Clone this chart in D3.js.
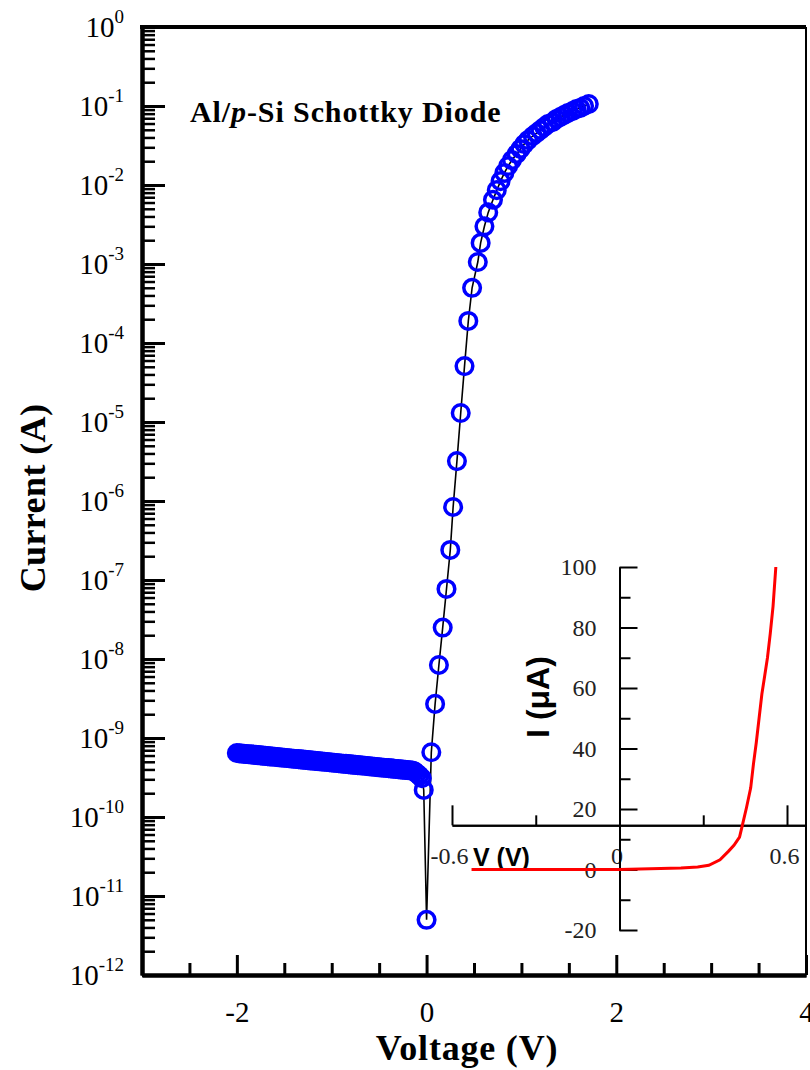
<!DOCTYPE html>
<html>
<head>
<meta charset="utf-8">
<script src="https://cdn.jsdelivr.net/npm/d3@7"></script>
<style>
body { margin: 0; background: #fff; }
</style>
</head>
<body>
<div id="chart"></div>
<script>
// reverse bias branch (V, A)
const revVoltage = [-2.000,-1.975,-1.950,-1.925,-1.900,-1.875,-1.850,-1.825,-1.800,-1.775,-1.750,-1.725,-1.700,-1.675,-1.650,-1.625,
  -1.600,-1.575,-1.550,-1.525,-1.500,-1.475,-1.450,-1.425,-1.400,-1.375,-1.350,-1.325,-1.300,-1.275,-1.250,-1.225,
  -1.200,-1.175,-1.150,-1.125,-1.100,-1.075,-1.050,-1.025,-1.000,-0.975,-0.950,-0.925,-0.900,-0.875,-0.850,-0.825,
  -0.800,-0.775,-0.750,-0.725,-0.700,-0.675,-0.650,-0.625,-0.600,-0.575,-0.550,-0.525,-0.500,-0.475,-0.450,-0.425,
  -0.400,-0.375,-0.350,-0.325,-0.300,-0.275,-0.250,-0.225,-0.200,-0.175,-0.150,-0.125,-0.100,-0.075,-0.050,-0.030];
const revCurrent = [6.46e-10,6.42e-10,6.37e-10,6.33e-10,6.28e-10,6.24e-10,6.20e-10,6.15e-10,6.11e-10,6.07e-10,6.03e-10,5.99e-10,5.94e-10,5.90e-10,5.86e-10,5.82e-10,
  5.78e-10,5.74e-10,5.70e-10,5.66e-10,5.62e-10,5.59e-10,5.55e-10,5.51e-10,5.47e-10,5.43e-10,5.40e-10,5.36e-10,5.32e-10,5.29e-10,5.25e-10,5.21e-10,
  5.18e-10,5.14e-10,5.11e-10,5.07e-10,5.04e-10,5.00e-10,4.97e-10,4.93e-10,4.90e-10,4.86e-10,4.83e-10,4.80e-10,4.76e-10,4.73e-10,4.70e-10,4.67e-10,
  4.63e-10,4.60e-10,4.57e-10,4.54e-10,4.51e-10,4.48e-10,4.45e-10,4.42e-10,4.38e-10,4.35e-10,4.32e-10,4.29e-10,4.26e-10,4.24e-10,4.21e-10,4.18e-10,
  4.15e-10,4.12e-10,4.09e-10,4.06e-10,4.04e-10,4.01e-10,3.98e-10,3.95e-10,3.93e-10,3.90e-10,3.87e-10,3.75e-10,3.55e-10,3.35e-10,3.10e-10,2.20e-10];

// forward bias branch (V, A)
const fwdVoltage = [0.00,0.05,0.09,0.13,0.17,0.21,0.25,0.28,0.32,0.36,0.40,0.44,0.48,0.54,0.57,0.61,0.65,0.70,0.74,0.78,0.82,
  0.86,0.90,0.95,0.99,1.03,1.07,1.12,1.16,1.20,1.24,1.28,1.33,1.37,1.41,1.45,1.49,1.54,1.58,1.62,1.66,1.71];
const fwdCurrent = [5.0e-12,6.6e-10,2.7e-9,8.4e-9,2.5e-8,7.7e-8,2.4e-7,8.4e-7,3.2e-6,1.3e-5,5.1e-5,1.9e-4,5.0e-4,1.06e-3,1.85e-3,3.0e-3,4.5e-3,6.5e-3,8.6e-3,1.12e-2,1.42e-2,
  1.74e-2,2.07e-2,2.47e-2,2.86e-2,3.30e-2,3.71e-2,4.17e-2,4.55e-2,4.97e-2,5.42e-2,5.92e-2,6.27e-2,6.85e-2,7.26e-2,7.69e-2,8.15e-2,8.64e-2,9.16e-2,9.44e-2,1.0e-1,1.06e-1];

// inset, linear I-V (V, uA)
const insetVoltage = [-0.53,0.00,0.22,0.28,0.32,0.36,0.39,0.41,0.43,0.44,0.455,0.47,0.48,0.49,0.50,0.51,0.52,0.53,0.54,0.55,0.56];
const insetCurrent = [0,0,0.5,0.8,1.4,3.2,6.0,8.0,10.7,14.6,20.5,27,35,42,50,58,64,70,78,87,100];

// ticks
const xMajorTicks = [-2,0,2,4];
const xMinorTicks = [-2.5,-1.5,-1,-0.5,0.5,1,1.5,2.5,3,3.5];
const yDecades = [1,1e-1,1e-2,1e-3,1e-4,1e-5,1e-6,1e-7,1e-8,1e-9,1e-10,1e-11,1e-12];
const insetXMajor = [-0.6,0,0.6];
const insetXMinor = [-0.3,0.3];
const insetYMajor = [-20,0,20,40,60,80,100];
const insetYMinor = [-10,10,30,50,70,90];
const insetAxisCross = 14.6;   // inset x axis sits at this current

const serif = "'Liberation Serif','Times New Roman',serif";
const sans = "'Liberation Sans',Arial,sans-serif";

const svg = d3.select("#chart").append("svg")
  .attr("width", 810).attr("height", 1070);

const x = d3.scaleLinear().domain([-3, 4]).range([142, 806]);
const y = d3.scaleLog().domain([1e-12, 1]).range([975, 27]);

// minor decade ticks 2..9 x 10^k
const yMinorTicks = [];
for (let k = -12; k < 0; k++) {
  for (let m = 2; m < 10; m++) yMinorTicks.push(m * Math.pow(10, k));
}

function styleAxis(g, w, tw) {
  g.select(".domain").attr("stroke", "#000").attr("stroke-width", w);
  g.selectAll(".tick line").attr("stroke", "#000").attr("stroke-width", tw);
}

// bottom axis
svg.append("g")
  .attr("transform", `translate(0,${y(1e-12)})`)
  .call(d3.axisBottom(x).tickValues(xMinorTicks).tickSize(-12).tickSizeOuter(0).tickFormat(""))
  .call(g => styleAxis(g, 4, 3));
svg.append("g")
  .attr("transform", `translate(0,${y(1e-12)})`)
  .call(d3.axisBottom(x).tickValues(xMajorTicks).tickSize(-20).tickSizeOuter(0).tickPadding(26).tickFormat(d => String(d)))
  .attr("font-family", serif).attr("font-size", 29)
  .call(g => styleAxis(g, 4, 3))
  .call(g => g.selectAll(".tick text").attr("fill", "#000"));

// left axis
svg.append("g")
  .attr("transform", `translate(${x(-3)},0)`)
  .call(d3.axisLeft(y).tickValues(yMinorTicks).tickSize(-13).tickSizeOuter(0).tickFormat(""))
  .call(g => styleAxis(g, 4, 2.5));
svg.append("g")
  .attr("transform", `translate(${x(-3)},0)`)
  .call(d3.axisLeft(y).tickValues(yDecades).tickSize(-23).tickSizeOuter(0).tickPadding(18))
  .attr("font-family", serif).attr("font-size", 29)
  .call(g => styleAxis(g, 4, 3))
  .call(g => g.selectAll(".tick text").each(function (d) {
    const t = d3.select(this).attr("fill", "#000").text("10");
    t.append("tspan").attr("dy", -14).attr("font-size", 19).text(String(Math.round(Math.log10(d))));
  }));

// top and right frame
svg.append("line")
  .attr("x1", x(-3) - 2).attr("x2", x(4)).attr("y1", y(1)).attr("y2", y(1))
  .attr("stroke", "#000").attr("stroke-width", 4);
svg.append("line")
  .attr("x1", x(4)).attr("x2", x(4)).attr("y1", y(1)).attr("y2", y(1e-12))
  .attr("stroke", "#000").attr("stroke-width", 2);

// axis titles
svg.append("text")
  .attr("x", 467).attr("y", 1060)
  .attr("text-anchor", "middle")
  .attr("font-family", serif).attr("font-weight", "bold").attr("font-size", 36)
  .attr("letter-spacing", 0.8)
  .text("Voltage (V)");
svg.append("text")
  .attr("transform", "translate(45,498) rotate(-90)")
  .attr("text-anchor", "middle")
  .attr("font-family", serif).attr("font-weight", "bold").attr("font-size", 36)
  .attr("letter-spacing", 0.4)
  .text("Current (A)");

// title
const title = svg.append("text")
  .attr("x", 190).attr("y", 122)
  .attr("font-family", serif).attr("font-weight", "bold").attr("font-size", 30)
  .attr("letter-spacing", 0.9);
title.append("tspan").text("Al/");
title.append("tspan").attr("font-style", "italic").text("p");
title.append("tspan").text("-Si Schottky Diode");

// main data
const data = revVoltage.map((v, i) => ({ v: v, c: revCurrent[i] }))
  .concat(fwdVoltage.map((v, i) => ({ v: v, c: fwdCurrent[i] })));

svg.append("path")
  .datum(data)
  .attr("fill", "none")
  .attr("stroke", "#000")
  .attr("stroke-width", 1.6)
  .attr("d", d3.line().x(d => x(d.v)).y(d => y(d.c)));

svg.append("g")
  .selectAll("circle")
  .data(data)
  .join("circle")
  .attr("cx", d => x(d.v))
  .attr("cy", d => y(d.c))
  .attr("r", 8.3)
  .attr("fill", "none")
  .attr("stroke", "#0000ff")
  .attr("stroke-width", 3.5);

// ---- inset ----
const xi = d3.scaleLinear().domain([-0.6, 0.6]).range([452, 787]);
xi.domain([-0.6, xi.invert(x(4))]).range([452, x(4)]);
const yi = d3.scaleLinear().domain([-20, 100]).range([930, 567]);

svg.append("g")
  .attr("transform", `translate(0,${yi(insetAxisCross)})`)
  .call(d3.axisBottom(xi).tickValues(insetXMinor).tickSize(-10).tickSizeOuter(0).tickFormat(""))
  .call(g => styleAxis(g, 2, 2));
svg.append("g")
  .attr("transform", `translate(0,${yi(insetAxisCross)})`)
  .call(d3.axisBottom(xi).tickValues(insetXMajor).tickSize(-20).tickSizeOuter(0).tickPadding(22)
    .tickFormat(d => d === 0 ? "0" : d.toFixed(1)))
  .attr("font-family", serif).attr("font-size", 24)
  .call(g => styleAxis(g, 2, 2))
  .call(g => g.selectAll(".tick text").attr("fill", "#222").attr("dx", -3));

svg.append("g")
  .attr("transform", `translate(${xi(0)},0)`)
  .call(d3.axisLeft(yi).tickValues(insetYMinor).tickSize(-11).tickSizeOuter(0).tickFormat(""))
  .call(g => styleAxis(g, 2, 2));
svg.append("g")
  .attr("transform", `translate(${xi(0)},0)`)
  .call(d3.axisLeft(yi).tickValues(insetYMajor).tickSize(-18).tickSizeOuter(0).tickPadding(23).tickFormat(d => String(d)))
  .attr("font-family", serif).attr("font-size", 24)
  .call(g => styleAxis(g, 2, 2))
  .call(g => g.selectAll(".tick text").attr("fill", "#222"));

svg.append("text")
  .attr("x", 473).attr("y", 866)
  .attr("font-family", sans).attr("font-weight", "bold").attr("font-size", 25)
  .text("V (V)");
svg.append("text")
  .attr("transform", "translate(549,697) rotate(-90)")
  .attr("text-anchor", "middle")
  .attr("font-family", sans).attr("font-weight", "bold").attr("font-size", 32)
  .text("I (\u03bcA)");

svg.append("path")
  .datum(insetVoltage.map((v, i) => [v, insetCurrent[i]]))
  .attr("fill", "none")
  .attr("stroke", "#ff0000")
  .attr("stroke-width", 3)
  .attr("d", d3.line().x(d => xi(d[0])).y(d => yi(d[1])));
</script>
</body>
</html>
